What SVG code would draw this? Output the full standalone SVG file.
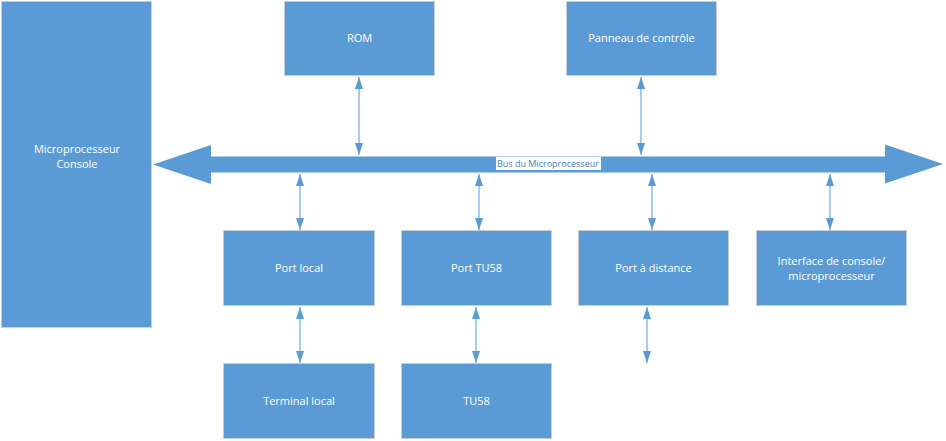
<svg xmlns="http://www.w3.org/2000/svg" width="946" height="441" viewBox="0 0 946 441">
<style>
.box{fill:#5b9bd5;stroke:#c9ced6;stroke-width:1}
.lbl{font-family:"Open Sans","Noto Sans",sans-serif;font-size:11px;fill:#ffffff;text-anchor:middle}
.con{stroke:#8dbbe5;stroke-width:1.5;fill:none;marker-start:url(#ah);marker-end:url(#ah)}
</style>
<defs>
<marker id="ah" viewBox="0 0 12 8" refX="12" refY="4" markerWidth="12" markerHeight="8" markerUnits="userSpaceOnUse" orient="auto-start-reverse">
<path d="M0,0 L12,4 L0,8 Z" fill="#5b9bd5"/>
</marker>
</defs>
<rect width="946" height="441" fill="#ffffff"/>
<g id="bus">
<polygon points="153,164.5 211,145 211,156.5 885,156.5 885,144.5 943,164 885,183.5 885,172.5 211,172.5 211,184" fill="#5b9bd5"/>
<rect x="496" y="157" width="105" height="13" fill="#ffffff"/>
<text x="497" y="167" font-family="'Open Sans','Noto Sans',sans-serif" font-size="9" fill="#4a7fb5">Bus du Microprocesseur</text>
</g>
<g id="connectors">
<line class="con" x1="359" y1="77" x2="359" y2="155"/>
<line class="con" x1="641" y1="77" x2="641" y2="155"/>
<line class="con" x1="300" y1="174" x2="300" y2="230"/>
<line class="con" x1="479" y1="174" x2="479" y2="230"/>
<line class="con" x1="652" y1="174" x2="652" y2="230"/>
<line class="con" x1="830" y1="174" x2="830" y2="230"/>
<line class="con" x1="300" y1="307" x2="300" y2="363"/>
<line class="con" x1="476" y1="307" x2="476" y2="363"/>
<line class="con" x1="647" y1="307" x2="647" y2="363"/>
</g>
<g id="console">
<rect class="box" x="1.5" y="1.5" width="150" height="326"/>
<text class="lbl" x="77" y="153">Microprocesseur</text>
<text class="lbl" x="77" y="168">Console</text>
</g>
<g id="rom">
<rect class="box" x="284.5" y="1.5" width="150" height="74"/>
<text class="lbl" x="359.5" y="42">ROM</text>
</g>
<g id="panneau">
<rect class="box" x="566.5" y="1.5" width="150" height="74"/>
<text class="lbl" x="641.5" y="42">Panneau de contrôle</text>
</g>
<g id="port-local">
<rect class="box" x="223.5" y="230.5" width="151" height="75"/>
<text class="lbl" x="299" y="272">Port local</text>
</g>
<g id="port-tu58">
<rect class="box" x="401.5" y="230.5" width="150" height="75"/>
<text class="lbl" x="476.5" y="272">Port TU58</text>
</g>
<g id="port-distance">
<rect class="box" x="578.5" y="230.5" width="150" height="75"/>
<text class="lbl" x="653.5" y="272">Port à distance</text>
</g>
<g id="interface">
<rect class="box" x="756.5" y="230.5" width="150" height="75"/>
<text class="lbl" x="831.5" y="265">Interface de console/</text>
<text class="lbl" x="831.5" y="280">microprocesseur</text>
</g>
<g id="terminal-local">
<rect class="box" x="223.5" y="363.5" width="151" height="75"/>
<text class="lbl" x="299" y="405">Terminal local</text>
</g>
<g id="tu58">
<rect class="box" x="401.5" y="363.5" width="150" height="75"/>
<text class="lbl" x="476.5" y="405">TU58</text>
</g>
</svg>
